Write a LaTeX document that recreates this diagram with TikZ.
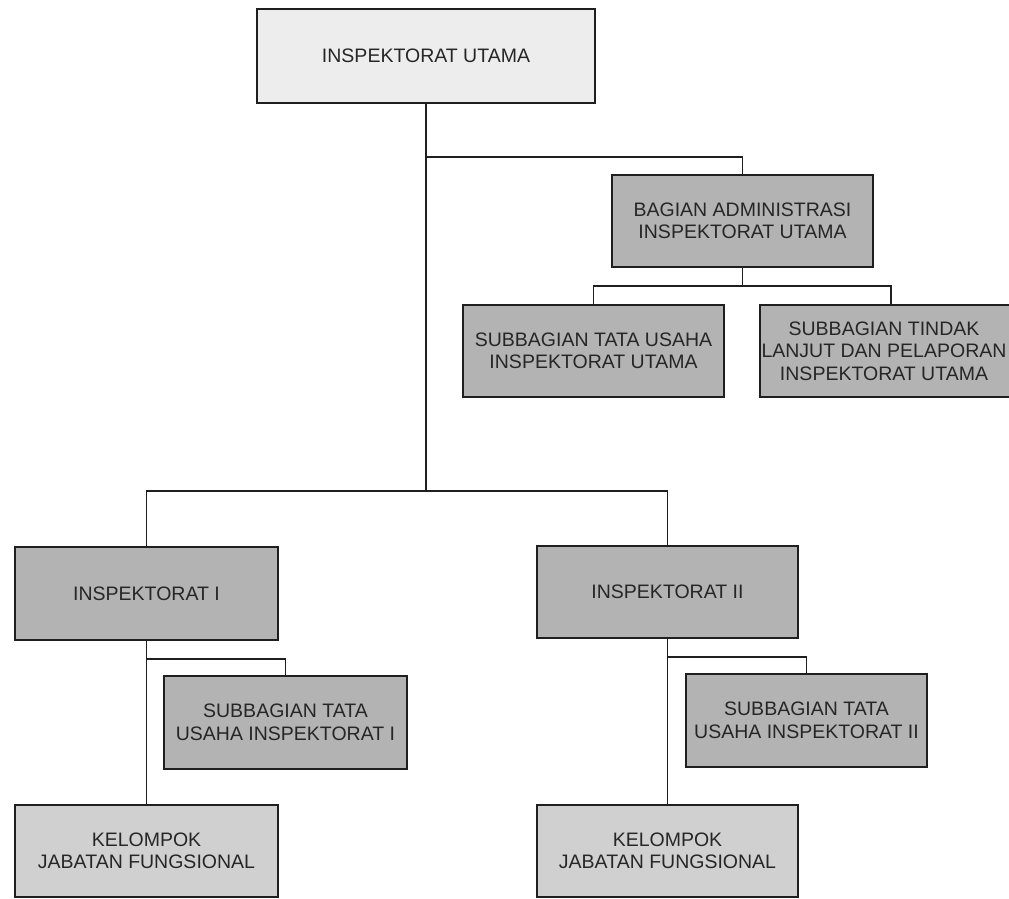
\documentclass[tikz,border=0pt]{standalone}
\usepackage{fontspec}
\setmainfont{Liberation Sans}
\begin{document}
\begin{tikzpicture}[x=1pt,y=-1pt,
  labeltext/.style={inner sep=0pt, outer sep=0pt, align=center,
    font=\fontsize{19.5}{22.5}\selectfont, text=black!85},
  box/.style={labeltext, draw=black!88, line width=2.2pt, rectangle},
  headbox/.style={box, fill=lightfill},
  unitbox/.style={box, fill=darkfill},
  groupbox/.style={box, fill=midfill},
  link/.style={draw=black!88, line width=1.8pt}]
\definecolor{lightfill}{HTML}{EDEDED}
\definecolor{darkfill}{HTML}{B3B3B3}
\definecolor{midfill}{HTML}{D0D0D0}
\useasboundingbox (0,0) rectangle (1009,899);
\fill[white] (0,0) rectangle (1009,899);

% top level
\node[headbox, minimum width=338pt, minimum height=94pt] (top) at (426,56) {INSPEKTORAT UTAMA};

% administration branch
\node[unitbox, minimum width=261pt, minimum height=92pt] (bag) at (742.5,221)
  {BAGIAN ADMINISTRASI\\INSPEKTORAT UTAMA};
\node[unitbox, minimum width=261pt, minimum height=92pt] (sta) at (593.5,351)
  {SUBBAGIAN TATA USAHA\\INSPEKTORAT UTAMA};
\begin{scope}
  \clip (0,0) rectangle (1009,899);
  \node[unitbox, minimum width=262pt, minimum height=92pt] (stl) at (891,351) {};
\end{scope}
\node[labeltext] (stltext) at (884,351)
  {SUBBAGIAN TINDAK\\LANJUT DAN PELAPORAN\\INSPEKTORAT UTAMA};

% inspectorates
\node[unitbox, minimum width=263pt, minimum height=93pt] (i1) at (146.5,593.5) {INSPEKTORAT I};
\node[unitbox, minimum width=261pt, minimum height=92pt] (i2) at (667.5,592) {INSPEKTORAT II};
\node[unitbox, minimum width=243pt, minimum height=93pt] (s1) at (285.5,722.5)
  {SUBBAGIAN TATA\\USAHA INSPEKTORAT I};
\node[unitbox, minimum width=241pt, minimum height=93pt] (s2) at (806.5,720.5)
  {SUBBAGIAN TATA\\USAHA INSPEKTORAT II};
\node[groupbox, minimum width=263pt, minimum height=92pt] (k1) at (146.5,851)
  {KELOMPOK\\JABATAN FUNGSIONAL};
\node[groupbox, minimum width=261pt, minimum height=92pt] (k2) at (667.5,851)
  {KELOMPOK\\JABATAN FUNGSIONAL};

% junction points
\coordinate (j1) at (426,157);
\coordinate (j2) at (426,491);
\coordinate (b1) at (742.5,286);
\coordinate (c1) at (146.5,659);
\coordinate (c2) at (667.5,657);

% connectors
\draw[link] (top.south) -- (j2);
\draw[link] (j1) -| (bag.north);
\draw[link] (bag.south) -- (b1);
\draw[link] (sta.north) -- (sta.north |- b1) -- (stl.north |- b1) -- (stl.north);
\draw[link] (i1.north) |- (j2);
\draw[link] (i2.north) |- (j2);
\draw[link] (i1.south) -- (k1.north);
\draw[link] (c1) -| (s1.north);
\draw[link] (i2.south) -- (k2.north);
\draw[link] (c2) -| (s2.north);
\end{tikzpicture}
\end{document}
